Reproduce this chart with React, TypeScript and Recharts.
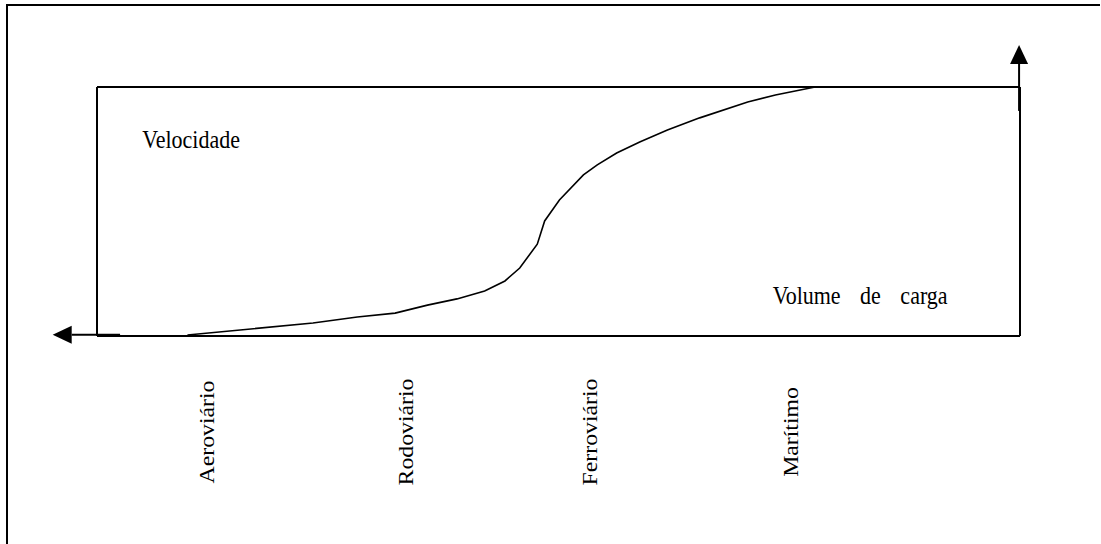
import { ComposedChart, Line, XAxis, YAxis, ReferenceLine, ReferenceDot } from "recharts";

// curve: x = volume (0-100 of frame width), y = speed (0-100 of frame height)
const curveX = [9.8, 23.4, 28.2, 32.3, 35.8, 39.0, 42.0, 44.2, 45.8, 47.7, 48.5, 50.1, 52.7, 54.2, 56.3, 58.8, 61.8, 65.3, 70.5, 73.5, 77.8];
const curveY = [0.4, 5.2, 7.6, 9.2, 12.4, 14.9, 18.1, 22.1, 27.3, 36.9, 46.2, 54.6, 64.7, 68.7, 73.5, 77.9, 82.7, 87.6, 94.0, 96.8, 100];

const modes = ["Aeroviário", "Rodoviário", "Ferroviário", "Marítimo"];
const modePos = [11.8, 33.4, 53.3, 75.1];

const data = curveX.map((x, i) => ({ x, y: curveY[i] }));
const font = "'Liberation Serif', 'Times New Roman', serif";

function ModeTick({ x, payload }: { x?: number; payload?: { value: number } }) {
  const idx = modePos.indexOf(payload?.value ?? -1);
  return (
    <text
      transform={`translate(${(x ?? 0) + 1}, 432) rotate(-90) scale(1.08, 1)`}
      textAnchor="middle"
      dominantBaseline="central"
      fontFamily={font}
      fontSize={22}
      fill="#000"
    >
      {modes[idx]}
    </text>
  );
}

function Arrow(props: { x1?: number; y1?: number; x2?: number; y2?: number }) {
  const x1 = props.x1 ?? 0, y1 = props.y1 ?? 0, x2 = props.x2 ?? 0, y2 = props.y2 ?? 0;
  const len = Math.hypot(x2 - x1, y2 - y1) || 1;
  const ux = (x2 - x1) / len, uy = (y2 - y1) / len;
  const h = 19, w = 9;
  const bx = x2 - ux * h, by = y2 - uy * h;
  return (
    <g>
      <line x1={x1} y1={y1} x2={bx} y2={by} stroke="#000" strokeWidth={2} />
      <polygon
        points={`${x2},${y2} ${bx - uy * w},${by + ux * w} ${bx + uy * w},${by - ux * w}`}
        fill="#000"
      />
    </g>
  );
}

function Label(text: string) {
  return (props: { cx?: number; cy?: number }) => (
    <text
      transform={`translate(${props.cx ?? 0}, ${props.cy ?? 0}) scale(1, 1.1)`}
      fontFamily={font}
      fontSize={22}
      fill="#000"
      style={{ wordSpacing: 14 }}
    >
      {text}
    </text>
  );
}

export default function App() {
  return (
    <div style={{ position: "absolute", left: 0, top: 0, width: 1101, height: 544, background: "#fff", overflow: "hidden" }}>
      <div style={{ position: "absolute", left: 6, top: 4, width: 1094, height: 2, background: "#000" }} />
      <div style={{ position: "absolute", left: 6, top: 4, width: 2, height: 540, background: "#000" }} />
      <div style={{ position: "absolute", left: 0, top: 0 }}>
        <ComposedChart width={1101} height={544} data={data} margin={{ top: 87, right: 81, bottom: 178, left: 97 }}>
          <XAxis
            dataKey="x"
            type="number"
            domain={[0, 100]}
            ticks={modePos}
            height={30}
            axisLine={false}
            tickLine={false}
            tick={<ModeTick />}
            interval={0}
          />
          <YAxis type="number" domain={[0, 100]} hide />
          <ReferenceLine segment={[{ x: 0, y: 0 }, { x: 0, y: 100 }]} stroke="#000" strokeWidth={2} ifOverflow="visible" />
          <ReferenceLine segment={[{ x: 0, y: 100 }, { x: 100, y: 100 }]} stroke="#000" strokeWidth={2} ifOverflow="visible" />
          <ReferenceLine segment={[{ x: 100, y: 0 }, { x: 100, y: 100 }]} stroke="#000" strokeWidth={2} ifOverflow="visible" />
          <ReferenceLine segment={[{ x: 0, y: 0 }, { x: 100, y: 0 }]} stroke="#000" strokeWidth={2} ifOverflow="visible" />
          <ReferenceLine segment={[{ x: 99.9, y: 90.4 }, { x: 99.9, y: 116.9 }]} ifOverflow="visible" shape={<Arrow />} />
          <ReferenceLine segment={[{ x: 2.5, y: 0.5 }, { x: -4.8, y: 0.5 }]} ifOverflow="visible" shape={<Arrow />} />
          <ReferenceDot x={4.9} y={75.5} r={0} shape={Label("Velocidade")} />
          <ReferenceDot x={73.2} y={12.9} r={0} shape={Label("Volume de carga")} />
          <Line
            type="linear"
            dataKey="y"
            stroke="#000"
            strokeWidth={1.6}
            dot={false}
            isAnimationActive={false}
          />
        </ComposedChart>
      </div>
    </div>
  );
}
